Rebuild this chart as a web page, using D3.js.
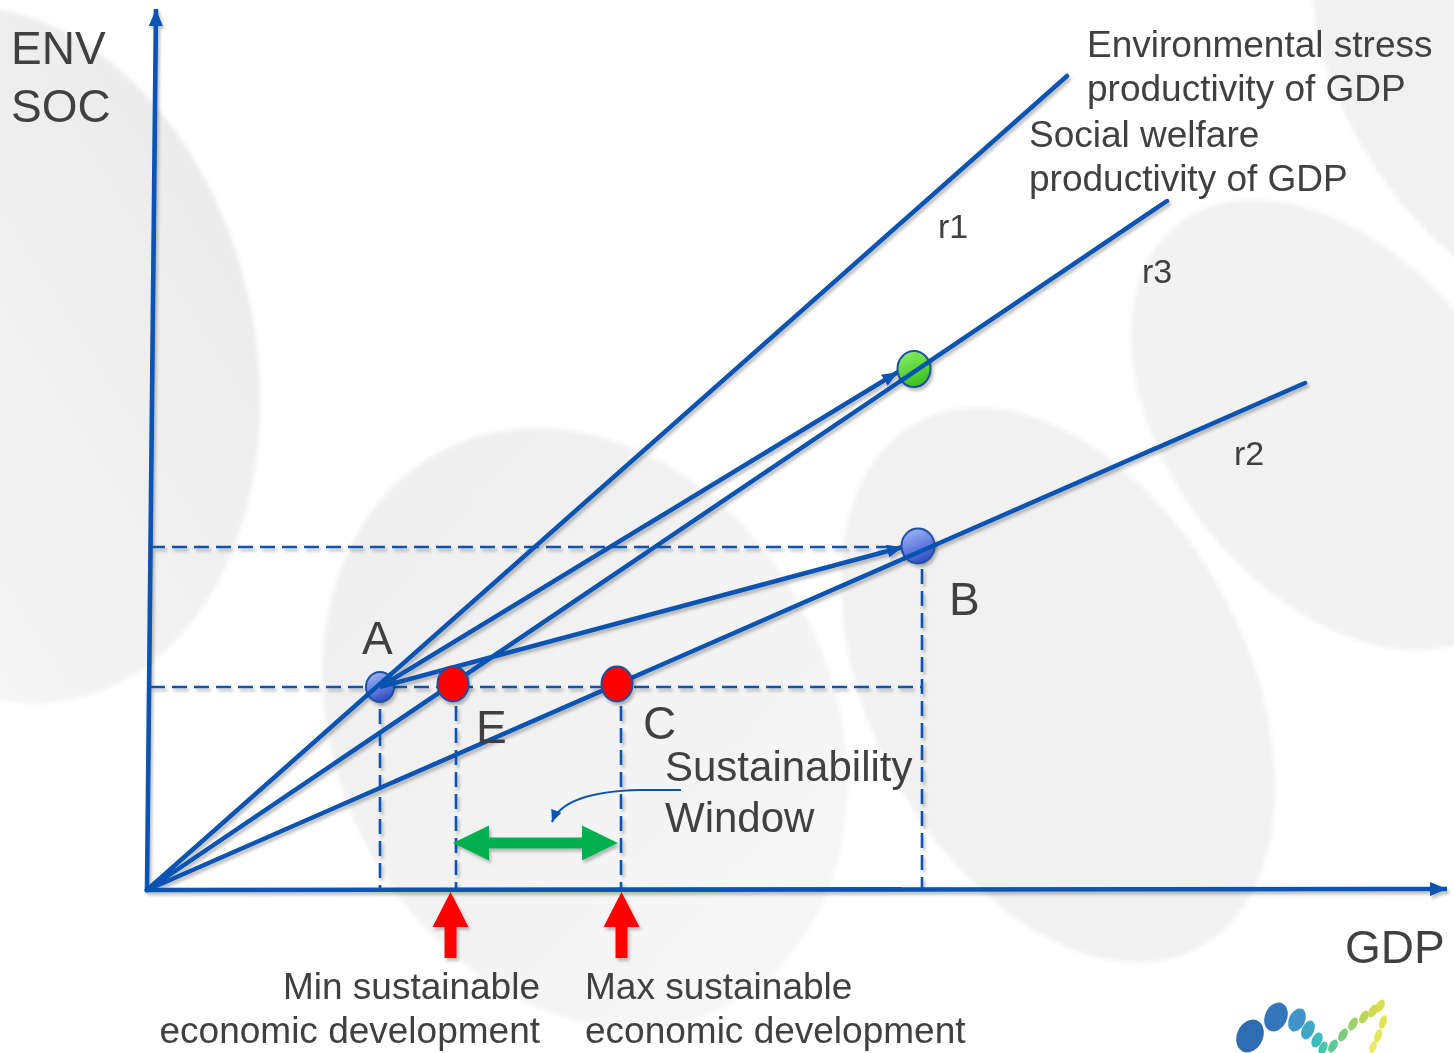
<!DOCTYPE html>
<html>
<head>
<meta charset="utf-8">
<script src="https://cdn.jsdelivr.net/npm/d3@7/dist/d3.min.js"></script>
<style>
html,body{margin:0;padding:0;background:#fff;}
svg{display:block;}
text{font-family:"Liberation Sans",Arial,sans-serif;fill:#404040;}
</style>
</head>
<body>
<svg id="chart" width="1454" height="1053"></svg>
<script>
// ---------- data (GDP / ENV-SOC units) ----------
const rays = [
  {name: "r1", gdp: 920,  env: 814},
  {name: "r3", gdp: 1020, env: 689},
  {name: "r2", gdp: 1158, env: 507}
];
const rayLabels = [
  {text: "r1", gdp: 791,  env: 652},
  {text: "r3", gdp: 995,  env: 607},
  {text: "r2", gdp: 1087, env: 425}
];
const pointIds   = ["A", "E", "C", "B", "G"];
const pointGdp   = [233, 306, 470, 771, 767];
const pointEnv   = [203, 206, 206, 344, 521];
const pointKinds = ["blue", "red", "red", "blue", "green"];
const pointLabels = ["A", "E", "C", "B", ""];
const moves = [ // arrows starting at A
  {from: "A", gdp: 756, env: 343},
  {from: "A", gdp: 751, env: 518}
];
const dashH = [ {env: 203, g0: 3, g1: 775}, {env: 343, g0: 3, g1: 753} ];
const dashV = [ {gdp: 233, e1: 203}, {gdp: 309, e1: 206}, {gdp: 474, e1: 206}, {gdp: 775, e1: 343} ];
const windowRange = {g0: 306, g1: 471, env: 47};
const boundArrows = [ {gdp: 303.5}, {gdp: 474.5} ];
const axisX = {g0: -2, g1: 1300, env: 0};
const axisY = {gBottom: 0, gTop: 9, e0: -2, e1: 881};
const axisLabels = {y: ["ENV", "SOC"], x: "GDP"};
const legendTexts = [["Environmental stress", "productivity of GDP"], ["Social welfare", "productivity of GDP"]];
const boundTexts = [["Min sustainable", "economic development"], ["Max sustainable", "economic development"]];
const windowText = ["Sustainability", "Window"];

// ---------- scales ----------
const x = d3.scaleLinear().domain([0, 1300]).range([147, 1447]);
const y = d3.scaleLinear().domain([0, 880]).range([890, 10]);

const svg = d3.select("#chart");
const defs = svg.append("defs");
const BLUE = "#0753b2";

// shadow filter
const f = defs.append("filter").attr("id", "sh").attr("x", "-10%").attr("y", "-10%").attr("width", "130%").attr("height", "130%");
f.append("feDropShadow").attr("dx", 2).attr("dy", 3).attr("stdDeviation", 1.6)
  .attr("flood-color", "#000").attr("flood-opacity", 0.25);
const fb = defs.append("filter").attr("id", "blur").attr("x", "-20%").attr("y", "-20%").attr("width", "140%").attr("height", "140%");
fb.append("feGaussianBlur").attr("stdDeviation", 2);

function lg(id, stops, x1, y1, x2, y2) {
  const g = defs.append("linearGradient").attr("id", id)
    .attr("x1", x1).attr("y1", y1).attr("x2", x2).attr("y2", y2);
  stops.forEach(s => g.append("stop").attr("offset", s[0]).attr("stop-color", s[1]));
}
lg("gBlue", [["0%", "#a9bcf6"], ["55%", "#6c86e4"], ["100%", "#3652c4"]], "0", "0", "0.4", "1");
lg("gGreen", [["0%", "#8cf46a"], ["100%", "#3fc21f"]], "0", "0", "0.4", "1");
lg("gBgLeft", [["0%", "#f6f6f6"], ["100%", "#ebebeb"]], "0.2", "0.7", "1", "0.3");
lg("gBg", [["0%", "#eeeeee"], ["100%", "#f6f6f6"]], "0", "0", "0.3", "1");

// markers
function marker(id, len, wid, color) {
  defs.append("marker").attr("id", id).attr("markerUnits", "userSpaceOnUse")
    .attr("viewBox", `0 ${-wid/2} ${len} ${wid}`).attr("refX", len).attr("refY", 0)
    .attr("markerWidth", len).attr("markerHeight", wid).attr("orient", "auto")
    .append("path").attr("d", `M0,${-wid/2}L${len},0L0,${wid/2}Z`).attr("fill", color);
}
marker("mAxis", 17, 14, BLUE);
marker("mMove", 16, 13, BLUE);
marker("mThin", 12, 11, BLUE);

// ---------- background decoration ----------
const bg = svg.append("g").attr("filter", "url(#blur)");
const blobs = [
  {cx: 0, cy: 355, rx: 255, ry: 352, rot: -12, fill: "url(#gBgLeft)"},
  {cx: 585, cy: 728, rx: 248, ry: 312, rot: -27, fill: "url(#gBg)"},
  {cx: 1058, cy: 685, rx: 188, ry: 298, rot: -28, fill: "#f1f1f1"},
  {cx: 1335, cy: 425, rx: 165, ry: 255, rot: -38, fill: "#f2f2f2"},
  {cx: 1480, cy: 90, rx: 130, ry: 240, rot: -32, fill: "#f1f1f1"}
];
bg.selectAll("ellipse").data(blobs).join("ellipse")
  .attr("cx", 0).attr("cy", 0).attr("rx", d => d.rx).attr("ry", d => d.ry)
  .attr("transform", d => `translate(${d.cx},${d.cy}) rotate(${d.rot})`)
  .attr("fill", d => d.fill);

// ---------- lines ----------
const lines = svg.append("g").attr("filter", "url(#sh)");

// dashed guides
lines.selectAll("line.dh").data(dashH).join("line").attr("class", "dh")
  .attr("x1", d => x(d.g0)).attr("x2", d => x(d.g1)).attr("y1", d => y(d.env)).attr("y2", d => y(d.env))
  .attr("stroke", BLUE).attr("stroke-width", 2.6).attr("stroke-dasharray", "15,7");
lines.selectAll("line.dv").data(dashV).join("line").attr("class", "dv")
  .attr("x1", d => x(d.gdp)).attr("x2", d => x(d.gdp)).attr("y1", d => y(d.e1)).attr("y2", y(0))
  .attr("stroke", BLUE).attr("stroke-width", 2.6).attr("stroke-dasharray", "15,7");

// axes
lines.append("line")
  .attr("x1", x(axisX.g0)).attr("y1", y(axisX.env)).attr("x2", x(axisX.g1)).attr("y2", y(axisX.env + 1))
  .attr("stroke", BLUE).attr("stroke-width", 4.6).attr("marker-end", "url(#mAxis)");
lines.append("line")
  .attr("x1", x(axisY.gBottom)).attr("y1", y(axisY.e0)).attr("x2", x(axisY.gTop)).attr("y2", y(axisY.e1))
  .attr("stroke", BLUE).attr("stroke-width", 4.6).attr("marker-end", "url(#mAxis)");

// rays from origin
lines.selectAll("line.ray").data(rays).join("line").attr("class", "ray")
  .attr("x1", x(0)).attr("y1", y(0)).attr("x2", d => x(d.gdp)).attr("y2", d => y(d.env))
  .attr("stroke", BLUE).attr("stroke-width", 4.5).attr("stroke-linecap", "round");

// moves from A
const idx = id => pointIds.indexOf(id);
lines.selectAll("line.mv").data(moves).join("line").attr("class", "mv")
  .attr("x1", d => x(pointGdp[idx(d.from)])).attr("y1", d => y(pointEnv[idx(d.from)]))
  .attr("x2", d => x(d.gdp)).attr("y2", d => y(d.env))
  .attr("stroke", BLUE).attr("stroke-width", 4.5).attr("marker-end", "url(#mMove)");

// points
const pts = pointIds.map((id, i) => ({id, gdp: pointGdp[i], env: pointEnv[i], kind: pointKinds[i], label: pointLabels[i]}));
const fillFor = {blue: "url(#gBlue)", red: "#ff0000", green: "url(#gGreen)"};
const rFor = {A: [14, 15], E: [15.5, 17.5], C: [15.5, 17.5], B: [16.5, 17.5], G: [16.5, 18]};
svg.append("g").attr("filter", "url(#sh)").selectAll("ellipse").data(pts).join("ellipse")
  .attr("cx", d => x(d.gdp)).attr("cy", d => y(d.env))
  .attr("rx", d => rFor[d.id][0]).attr("ry", d => rFor[d.id][1])
  .attr("fill", d => fillFor[d.kind]).attr("stroke", "#1d4f9f").attr("stroke-width", 2);
// lines passing over the blue / green points (as in reference)
const cp = defs.append("clipPath").attr("id", "ptClip");
cp.selectAll("ellipse").data(pts.filter(d => d.id !== "E" && d.id !== "C")).join("ellipse")
  .attr("cx", d => x(d.gdp)).attr("cy", d => y(d.env))
  .attr("rx", d => rFor[d.id][0] + 3).attr("ry", d => rFor[d.id][1] + 3);
svg.append("g").selectAll("line").data(rays).join("line")
  .attr("x1", x(0)).attr("y1", y(0)).attr("x2", d => x(d.gdp)).attr("y2", d => y(d.env))
  .attr("stroke", BLUE).attr("stroke-width", 4.5)
  .attr("clip-path", "url(#ptClip)");
defs.append("clipPath").attr("id", "ptClipA").append("ellipse")
  .attr("cx", x(pointGdp[0])).attr("cy", y(pointEnv[0])).attr("rx", 17).attr("ry", 18);
svg.append("g").selectAll("line").data(moves).join("line")
  .attr("x1", d => x(pointGdp[idx(d.from)])).attr("y1", d => y(pointEnv[idx(d.from)]))
  .attr("x2", d => x(d.gdp)).attr("y2", d => y(d.env))
  .attr("stroke", BLUE).attr("stroke-width", 4.5).attr("clip-path", "url(#ptClipA)");

// ---------- sustainability window ----------
const wy = y(windowRange.env), wx0 = x(windowRange.g0), wx1 = x(windowRange.g1);
const hl = 36, hh = 17.5, sh = 5.5;
svg.append("path").attr("filter", "url(#sh)")
  .attr("d", `M${wx0},${wy}L${wx0+hl},${wy-hh}L${wx0+hl},${wy-sh}L${wx1-hl},${wy-sh}L${wx1-hl},${wy-hh}L${wx1},${wy}L${wx1-hl},${wy+hh}L${wx1-hl},${wy+sh}L${wx0+hl},${wy+sh}L${wx0+hl},${wy+hh}Z`)
  .attr("fill", "#00b050");

// red bound arrows
svg.append("g").attr("filter", "url(#sh)").selectAll("path").data(boundArrows).join("path")
  .attr("d", d => {
    const cx = x(d.gdp), t = y(-2), hb = t + 35, b = y(-68);
    return `M${cx},${t}L${cx+18},${hb}L${cx+6},${hb}L${cx+6},${b}L${cx-6},${b}L${cx-6},${hb}L${cx-18},${hb}Z`;
  })
  .attr("fill", "#ff0000");

// curved pointer to window
svg.append("path")
  .attr("d", "M681,790L640,790C595,791 561,799 552,822")
  .attr("fill", "none").attr("stroke", BLUE).attr("stroke-width", 2.2).attr("marker-end", "url(#mThin)");

// ---------- texts ----------
const T = (t, px, py, size, anchor) => svg.append("text").attr("x", px).attr("y", py)
  .attr("font-size", size).attr("text-anchor", anchor || "start").text(t);

T(axisLabels.y[0], 11, 64, 46);
T(axisLabels.y[1], 11, 122, 46);
T(axisLabels.x, 1345, 963, 46);
T(legendTexts[0][0], 1087, 57, 37);
T(legendTexts[0][1], 1087, 101, 37);
T(legendTexts[1][0], 1029, 147, 37);
T(legendTexts[1][1], 1029, 191, 37);
svg.selectAll("text.rl").data(rayLabels).join("text").attr("class", "rl")
  .attr("x", d => x(d.gdp)).attr("y", d => y(d.env)).attr("font-size", 34).text(d => d.text);

const labOff = {A: [-18, -33], E: [23, 59], C: [26, 55], B: [31, 69]};
svg.selectAll("text.pl").data(pts.filter(d => d.label)).join("text").attr("class", "pl")
  .attr("x", d => x(d.gdp) + labOff[d.id][0]).attr("y", d => y(d.env) + labOff[d.id][1])
  .attr("font-size", 46).text(d => d.label);

T(windowText[0], 665, 781, 42);
T(windowText[1], 665, 832, 42);
T(boundTexts[0][0], 540, 999, 37, "end");
T(boundTexts[0][1], 540, 1043, 37, "end");
T(boundTexts[1][0], 585, 999, 37);
T(boundTexts[1][1], 585, 1043, 37);

// ---------- logo decoration ----------
const logo = [
  [1250,1036,13,17,"#1a5ca8",25],[1276,1017,11,15,"#1f66b3",25],[1297,1020,8,12,"#2a86c4",25],
  [1308,1030,6,10,"#2a9fc0",25],[1317,1040,5,8,"#2bb3b5",25],[1323,1048,4,7,"#36bfa0",25],
  [1333,1046,4,7,"#49c48a",30],[1343,1035,4,7,"#6ec870",30],[1353,1024,4,7,"#92cc5a",30],
  [1364,1017,4,7,"#b4d048",30],[1373,1011,4,7,"#c8d63e",30],[1380,1006,4,7,"#d6dc3a",30],
  [1383,1022,3.5,7,"#e0e040",20],[1378,1036,3.5,7,"#e4e44a",20],[1373,1047,3.5,6,"#e8e85a",20]
];
svg.append("g").selectAll("ellipse").data(logo).join("ellipse")
  .attr("cx", 0).attr("cy", 0).attr("rx", d => d[2]).attr("ry", d => d[3])
  .attr("transform", d => `translate(${d[0]},${d[1]}) rotate(${d[5]})`)
  .attr("fill", d => d[4]).attr("opacity", 0.9);
</script>
</body>
</html>
